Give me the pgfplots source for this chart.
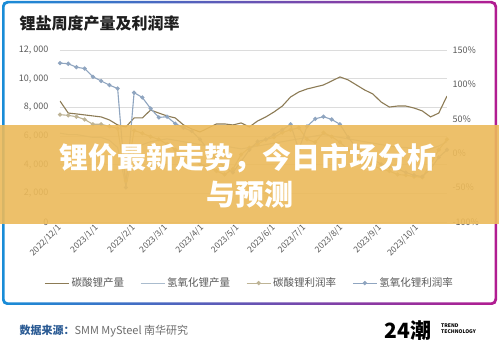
\documentclass[border=0pt]{standalone}
\usepackage{fontspec}
\setmainfont{Noto Sans CJK SC}
\usepackage{pgfplots}
\pgfplotsset{compat=1.18}
\usepackage{pgfplotstable}
\definecolor{frameL}{RGB}{25,140,215}
\definecolor{frameR}{RGB}{178,28,145}
\definecolor{titlec}{RGB}{30,30,30}
\definecolor{tickc}{RGB}{90,90,90}
\definecolor{gridc}{RGB}{220,220,220}
\definecolor{cpc}{RGB}{140,123,85}
\definecolor{hpc}{RGB}{170,188,206}
\definecolor{crc}{RGB}{190,180,150}
\definecolor{hrc}{RGB}{143,165,192}
\definecolor{bannerc}{RGB}{236,186,90}
\definecolor{srcb}{RGB}{43,91,148}
\definecolor{srcg}{RGB}{110,110,110}
\pgfplotstableread{
w cp hp cr hr
0 8440 6200 56 131
1 7600 6100 55 130
2 7540 6100 53 125
3 7470 6000 49 123
4 7400 5900 42 111
5 7330 5900 42 105
6 7120 5700 39 99
7 6770 5200 36 94
8 6630 2500 -40 -50
9 7260 5000 33 88
10 7260 5400 29 81
11 7810 5600 24 65
12 7600 5700 20 52
13 7400 5800 13 53
14 7260 5700 5 43
15 6770 5600 -2 37
16 6490 5500 -9 32
17 6280 5400 -16 20
18 6560 5300 -20 5
19 6840 5200 -26 -9
20 6840 5300 -31 -20
21 6770 5200 -23 -28
22 6910 5100 -2 -12
23 6630 5200 8 5
24 7050 5300 13 17
25 7330 5400 20 20
26 7680 5500 23 27
27 8090 5600 30 34
28 8720 5700 34 42
29 9070 5800 37 5
30 9280 5900 20 39
31 9420 6000 16 50
32 9560 6100 30 53
33 9840 6000 24 49
34 10120 5900 16 42
35 9910 5800 5 23
36 9560 5700 -6 8
37 9210 5600 -12 -2
38 8930 5500 -18 -9
39 8370 5400 -23 -16
40 8020 5300 -26 -20
41 8090 5200 -31 -23
42 8090 5200 -32 -28
43 7950 5100 -34 -32
44 7750 5000 -35 -34
45 7330 5100 -16 -23
46 7600 5300 5 -6
47 8790 5600 20 5
}\data
\begin{document}
\begin{tikzpicture}[x=1pt,y=1pt]
\path[use as bounding box] (0,0) rectangle (499,352);
\fill[white] (0,0) rectangle (499,352);
\shade[left color=frameL, right color=frameR, rounded corners=5pt] (2,47) rectangle (497,351);
\fill[white, rounded corners=4pt] (4.5,49.5) rectangle (494.5,348.5);
\node[anchor=west, font=\fontsize{16}{18}\selectfont\bfseries, text=titlec] at (16,329) {锂盐周度产量及利润率};
\begin{axis}[
  at={(60pt,130pt)}, anchor=south west, scale only axis,
  width=387pt, height=172pt,
  xmin=0, xmax=47, ymin=0, ymax=12000,
  scaled y ticks=false,
  axis line style={draw=none}, tick style={draw=none},
  ymajorgrids, grid style={gridc, line width=0.6pt},
  ytick={0,2000,4000,6000,8000,10000,12000},
  yticklabels={0,{2, 000},{4, 000},{6, 000},{8, 000},{10, 000},{12, 000}},
  xtick={0,4.5,9,12.9,17.3,21.6,26,29.7,34.2,38.9,43.4},
  xticklabels={2022/12/1,2023/1/1,2023/2/1,2023/3/1,2023/4/1,2023/5/1,2023/6/1,2023/7/1,2023/8/1,2023/9/1,2023/10/1},
  x tick label style={rotate=45, anchor=east, font=\fontsize{8.5}{10}\selectfont, text=tickc, yshift=-3pt},
  y tick label style={font=\fontsize{9}{10}\selectfont, text=tickc, xshift=-8pt},
]
\addplot[cpc, line width=1.1pt, no marks] table[x=w,y=cp]{\data};
\addplot[hpc, line width=1.1pt, no marks] table[x=w,y=hp]{\data};
\end{axis}
\begin{axis}[
  at={(60pt,130pt)}, anchor=south west, scale only axis,
  width=387pt, height=172pt,
  xmin=0, xmax=47, ymin=-100, ymax=150,
  axis y line*=right, axis x line=none,
  axis line style={draw=none}, tick style={draw=none},
  ytick={-100,-50,0,50,100,150},
  yticklabels={-100\%,-50\%,0\%,50\%,100\%,150\%},
  y tick label style={font=\fontsize{9}{10}\selectfont, text=tickc, xshift=2pt},
  legend columns=4,
  legend style={at={(0.49,-0.355)}, anchor=center, draw=none, fill=none,
    font=\fontsize{10.5}{12}\selectfont, text=tickc,
    /tikz/every even column/.append style={column sep=14pt}},
  legend image code/.code={\draw[mark repeat=2,mark phase=2] plot coordinates {(0pt,0pt)(12pt,0pt)(24pt,0pt)};},
]
\addlegendimage{cpc, line width=1.1pt, no marks}
\addlegendentry{碳酸锂产量}
\addlegendimage{hpc, line width=1.1pt, no marks}
\addlegendentry{氢氧化锂产量}
\addplot[crc, line width=1.1pt, mark=*, mark size=1.5pt, mark options={fill=crc, draw=crc}] table[x=w,y=cr]{\data};
\addlegendentry{碳酸锂利润率}
\addplot[hrc, line width=1.1pt, mark=*, mark size=1.5pt, mark options={fill=hrc, draw=hrc}] table[x=w,y=hr]{\data};
\addlegendentry{氢氧化锂利润率}
\end{axis}
\fill[bannerc, opacity=0.9] (0,128) rectangle (499,227);
\node[text=white, font=\fontsize{29}{32}\selectfont\bfseries] at (248,194) {锂价最新走势，今日市场分析};
\node[text=white, font=\fontsize{29}{32}\selectfont\bfseries] at (250,157) {与预测};
\node[anchor=west, font=\fontsize{11}{13}\selectfont] at (16,21) {\textcolor{srcb}{\bfseries 数据来源：}\textcolor{srcg}{SMM MySteel 南华研究}};
\node[anchor=west, font=\fontsize{21}{22}\selectfont\bfseries] at (381,21) {24潮};
\node[anchor=west, font=\fontsize{5}{6}\selectfont\bfseries, align=left, inner sep=0pt] at (441,23) {TREND\\TECHNOLOGY};
\end{tikzpicture}
\end{document}
